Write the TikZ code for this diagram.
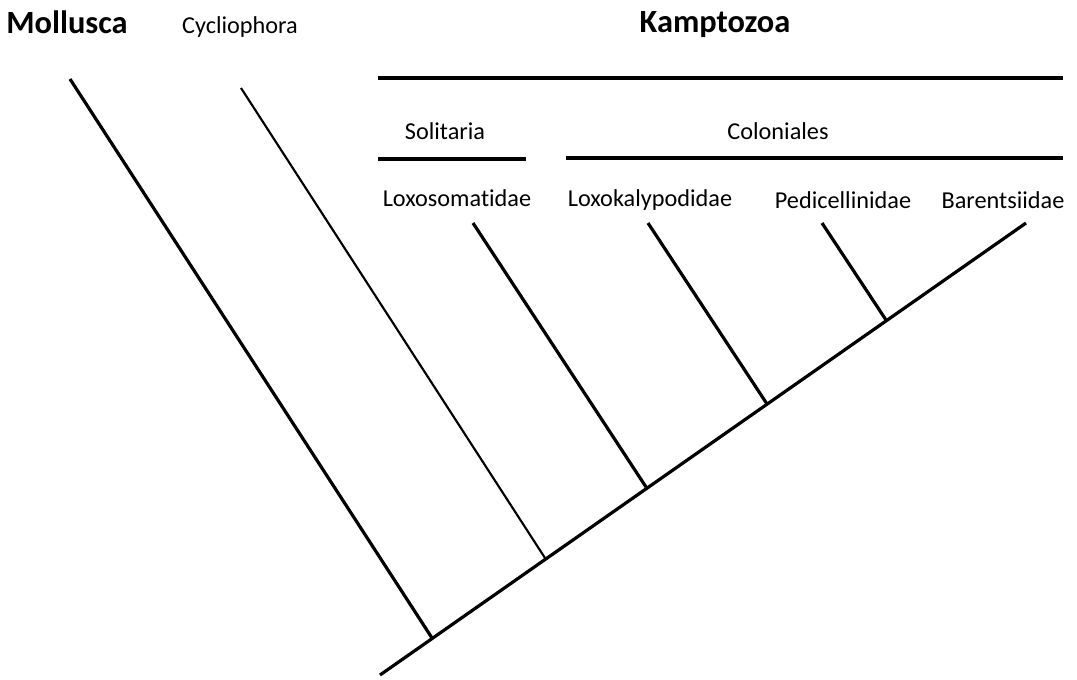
\documentclass[tikz,border=0pt]{standalone}
\usepackage{fontspec}
\setmainfont{Carlito}[Ligatures={NoCommon}]
\usetikzlibrary{calc}
\tikzset{
  lbl/.style={anchor=base, inner sep=0pt, font=\fontsize{18.2}{20}\selectfont},
  bigl/.style={anchor=base, inner sep=0pt, font=\fontsize{24.3}{26}\selectfont\bfseries},
  br/.style={line width=2.4pt, line cap=butt},
  thinbr/.style={line width=1.6pt, line cap=butt},
  bar/.style={line width=2.6pt}
}
\begin{document}
\begin{tikzpicture}[x=0.75pt, y=-0.75pt]
\useasboundingbox (0,0) rectangle (1077,679);
% labels
\node[bigl] (moll) at (67,33) {Mollusca};
\node[lbl] (cyc) at (240,33) {Cycliophora};
\node[bigl] (kamp) at (715,32) {Kamptozoa};
\node[lbl] (sol) at (445,139) {Solitaria};
\node[lbl] (col) at (778,139) {Coloniales};
\node[lbl] (loxo) at (457,206) {Loxosomatidae};
\node[lbl] (loxk) at (650,206) {Loxokalypodidae};
\node[lbl] (ped) at (843,208) {Pedicellinidae};
\node[lbl] (bar) at (1003,208) {Barentsiidae};
% group bars
\coordinate (kL) at (378,78);
\coordinate (kR) at (1063,78);
\coordinate (sL) at (378,159);
\coordinate (sR) at (526,159);
\coordinate (cL) at (566,158);
\coordinate (cR) at (1063,158);
\draw[bar] (kL) -- (kR);
\draw[bar] (sL) -- (sR);
\draw[bar] (cL) -- (cR);
% tree
\coordinate (root) at (380,675);
\coordinate (tip) at (1026,223);
\coordinate (tMoll) at (70,79);
\coordinate (jMoll) at (432,638);
\coordinate (tCyc) at (241,88);
\coordinate (jCyc) at (545,558);
\coordinate (tLoxo) at (473,223);
\coordinate (jLoxo) at (646,487);
\coordinate (tLoxk) at (648,223);
\coordinate (jLoxk) at (767,404);
\coordinate (tPed) at (822,223);
\coordinate (jPed) at (886,320);
\draw[br] (root) -- (tip);
\draw[br] (tMoll) -- (jMoll);
\draw[thinbr] (tCyc) -- (jCyc);
\draw[br] (tLoxo) -- (jLoxo);
\draw[br] (tLoxk) -- (jLoxk);
\draw[br] (tPed) -- (jPed);
\end{tikzpicture}
\end{document}
